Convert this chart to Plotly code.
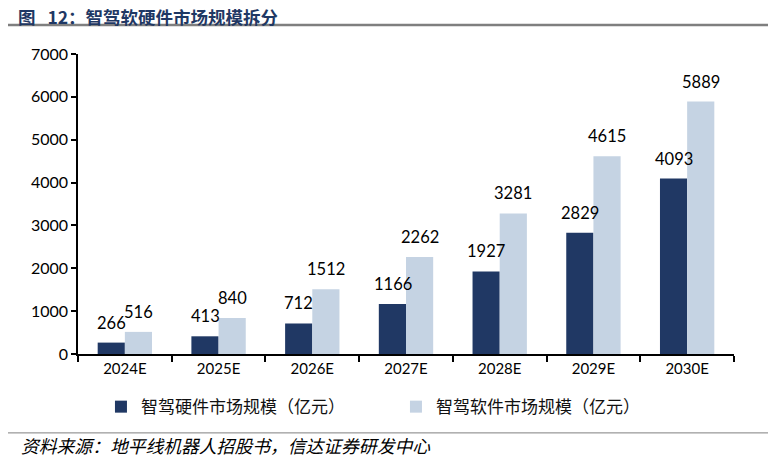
import plotly.graph_objects as go

# 智驾软硬件市场规模（亿元）
years = ["2024E", "2025E", "2026E", "2027E", "2028E", "2029E", "2030E"]
hardware = [266, 413, 712, 1166, 1927, 2829, 4093]
software = [516, 840, 1512, 2262, 3281, 4615, 5889]

dark = "#203864"
light = "#C5D3E3"
font = "Lato, 'Noto Sans CJK SC', sans-serif"
cjk = "'Noto Sans CJK SC', sans-serif"

fig = go.Figure()
fig.add_trace(go.Bar(x=years, y=hardware, name="智驾硬件市场规模（亿元）",
                     marker=dict(color=dark, line=dict(width=0))))
fig.add_trace(go.Bar(x=years, y=software, name="智驾软件市场规模（亿元）",
                     marker=dict(color=light, line=dict(width=0))))

# value labels above bars, shifted onto each bar of the group
for i, y in enumerate(years):
    fig.add_annotation(x=y, y=hardware[i], text=str(hardware[i]), showarrow=False,
                       xshift=-13.5, yshift=20, font=dict(size=16.5, color="#000"))
    fig.add_annotation(x=y, y=software[i], text=str(software[i]), showarrow=False,
                       xshift=13.5, yshift=20, font=dict(size=16.5, color="#000"))

# page body adds 8px margin, figure is sized to fit in 776x460
fig.update_layout(
    width=768, height=452,
    margin=dict(l=70, r=42, t=46, b=106),
    paper_bgcolor="white", plot_bgcolor="white",
    font=dict(family=font, size=15, color="#000"),
    barmode="group", bargap=0.42, bargroupgap=0,
    showlegend=True,
    legend=dict(orientation="h", x=0.035, xanchor="left", y=-0.177, yanchor="middle",
                font=dict(family=cjk, size=17, color="#111"),
                entrywidth=250, traceorder="normal"),
    title=dict(text="<b>图   12：智驾软硬件市场规模拆分</b>", x=0.013, xanchor="left",
               y=0.979, yanchor="middle",
               font=dict(family=cjk, size=17.5, color="#1F3864")),
)
fig.update_xaxes(showline=True, linecolor="#000", linewidth=1.5, ticks="outside",
                 tickson="boundaries", ticklen=6, tickcolor="#000", tickwidth=1.5,
                 tickfont=dict(size=15), showgrid=False)
fig.update_yaxes(range=[0, 7000], dtick=1000, showline=True, linecolor="#000",
                 linewidth=1.5, ticks="outside", ticklen=5, tickcolor="#000",
                 tickwidth=1.5, showgrid=False, zeroline=False, tickfont=dict(size=16))

# title underline and source line
fig.add_shape(type="line", xref="paper", yref="paper", x0=-0.111, x1=1.064, y0=1.097, y1=1.097,
              line=dict(color="#7F7F7F", width=2.5))
fig.add_shape(type="line", xref="paper", yref="paper", x0=-0.111, x1=1.064, y0=-0.263, y1=-0.263,
              line=dict(color="#7F7F7F", width=1))
fig.add_annotation(xref="paper", yref="paper", x=-0.09, y=-0.303, xanchor="left", yanchor="middle",
                   showarrow=False, text="<i>资料来源：地平线机器人招股书，信达证券研发中心</i>",
                   font=dict(family=cjk, size=17.8, color="#000"))

fig.write_html("out.html")
